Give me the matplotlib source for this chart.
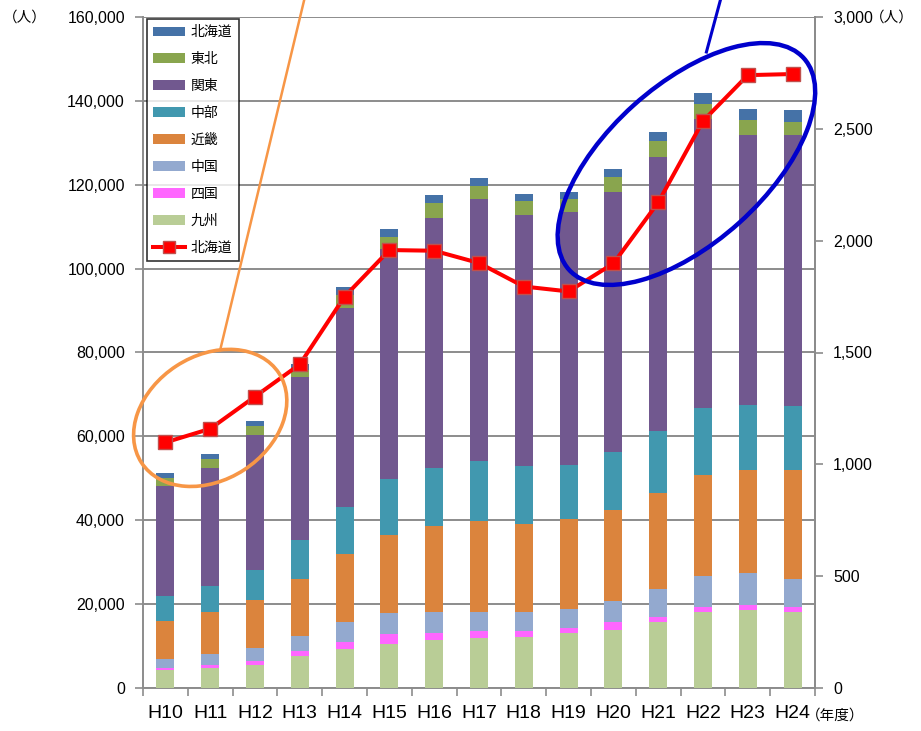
import matplotlib
matplotlib.use('Agg')
import matplotlib.pyplot as plt
import numpy as np
from matplotlib.patches import Ellipse, Patch
from matplotlib.lines import Line2D
from matplotlib.transforms import IdentityTransform

plt.rcParams['font.family'] = ['Liberation Sans', 'Noto Sans CJK JP', 'DejaVu Sans']

years = ['H10', 'H11', 'H12', 'H13', 'H14', 'H15', 'H16', 'H17', 'H18', 'H19',
         'H20', 'H21', 'H22', 'H23', 'H24']
kyushu = [4200, 4760, 5560, 7620, 9370, 10560, 11350, 11830, 12220, 13100, 13890, 15640, 18100, 18490, 18100]
shikoku = [480, 790, 870, 1270, 1670, 2220, 1830, 1750, 1350, 1190, 1750, 1270, 1270, 1270, 1270]
chugoku = [2140, 2460, 3020, 3410, 4600, 5000, 4920, 4520, 4520, 4600, 5000, 6750, 7220, 7620, 6670]
kinki = [9210, 10080, 11590, 13730, 16270, 18730, 20560, 21830, 20950, 21430, 21750, 22860, 24210, 24610, 25960]
chubu = [5870, 6350, 7140, 9290, 11270, 13340, 13810, 14210, 13890, 12940, 13890, 14760, 15950, 15560, 15160]
kanto = [26270, 27940, 32220, 38730, 47490, 54900, 59580, 62470, 59930, 60330, 62050, 65420, 68850, 64330, 64730]
tohoku = [1920, 2250, 2030, 1800, 3160, 2800, 3600, 3200, 3250, 3000, 3520, 3800, 3700, 3470, 3070]
hokkaido = [1098, 1159, 1303, 1447, 1750, 1958, 1955, 1900, 1795, 1773, 1898, 2171, 2535, 2740, 2745]

series_names = ['九州', '四国', '中国', '近畿', '中部', '関東', '東北', '北海道']
series_vals = [kyushu, shikoku, chugoku, kinki, chubu, kanto, tohoku, hokkaido]
series_cols = ['#B9CD96', '#FF66FF', '#93A9CF', '#DB843D', '#4198AF', '#71588F', '#89A54E', '#4572A7']

W, H = 921, 731
fig = plt.figure(figsize=(W / 100, H / 100), dpi=100)
ax = fig.add_axes([143 / W, 1 - 688 / H, (815 - 143) / W, (688 - 17) / H])
ax2 = ax.twinx()

x = np.arange(len(years))
bottom = np.zeros(len(years))
for name, vals, col in zip(series_names, series_vals, series_cols):
    v = np.array(vals, dtype=float)
    ax.bar(x, v, 0.4, bottom=bottom, color=col, edgecolor='none', zorder=3)
    bottom += v

gridc = '#8c8c8c'
ax.set_xlim(-0.5, len(years) - 0.5)
ax.set_ylim(0, 160000)
ax.set_yticks(np.arange(0, 160001, 20000))
ax.set_yticklabels([f'{v:,}' for v in range(0, 160001, 20000)], fontsize=11.5)
ax.yaxis.grid(True, color=gridc, linewidth=1.4, zorder=0)
ax.set_axisbelow(True)
ax.set_xticks(x)
ax.set_xticklabels(years, fontsize=14)
ax.set_xticks(np.arange(-0.5, len(years), 1), minor=True)
ax.tick_params(axis='x', which='major', length=0, pad=12)
ax.tick_params(axis='x', which='minor', length=6, color=gridc, width=1.2)
ax.tick_params(axis='y', length=6, color=gridc, width=1.2, pad=7)
for s in ['left', 'bottom', 'right']:
    ax.spines[s].set_color(gridc)
    ax.spines[s].set_linewidth(1.4)
ax.spines['top'].set_visible(False)

ax2.set_ylim(0, 3000)
ax2.set_yticks(np.arange(0, 3001, 500))
ax2.set_yticklabels([f'{v:,}' for v in range(0, 3001, 500)], fontsize=11.5)
ax2.tick_params(axis='y', length=6, color=gridc, width=1.2, pad=7)
for s in ['left', 'bottom', 'top']:
    ax2.spines[s].set_visible(False)
ax2.spines['right'].set_color(gridc)
ax2.spines['right'].set_linewidth(1.4)
ax2.plot(x, hokkaido, color='#FF0000', linewidth=2.9, marker='s', markersize=10,
         markerfacecolor='#FF0000', markeredgecolor='#C0504D', markeredgewidth=1, zorder=5)

# unit labels
fig.text(3 / W, 1 - 18 / H, '（人）', fontsize=10.5, family=['Noto Sans CJK JP'], va='center', ha='left')
fig.text(870 / W, 1 - 18 / H, '（人）', fontsize=10.5, family=['Noto Sans CJK JP'], va='center', ha='left')
fig.text(806 / W, 1 - 716 / H, '（年度）', fontsize=10.5, family=['Noto Sans CJK JP'], va='center', ha='left')

# legend
handles = [Patch(facecolor=c, edgecolor='none') for c in series_cols[::-1]]
labels = series_names[::-1]
handles.append(Line2D([0], [0], color='#FF0000', linewidth=2.9, marker='s', markersize=8,
                      markerfacecolor='#FF0000', markeredgecolor='#C0504D'))
labels.append('北海道')
leg = ax2.legend(handles, labels, loc='upper left', bbox_to_anchor=(0.006, 0.997),
                 borderaxespad=0, frameon=True, fancybox=False, edgecolor='black',
                 prop={'family': 'Noto Sans CJK JP', 'size': 10}, labelspacing=0.93,
                 handlelength=2.3, handleheight=0.7, handletextpad=0.4, borderpad=0.45)
leg.get_frame().set_linewidth(1.2)
leg.set_zorder(10)

# annotation ellipses (display pixels)
fig.canvas.draw()
ident = IdentityTransform()
oc = ax.transData.transform((1.0, 64400))
bc = ax.transData.transform((11.63, 124950))
e1 = Ellipse(oc, 164, 124, angle=33, fill=False, edgecolor='#F79646', linewidth=2.6,
             transform=ident, zorder=8, clip_on=False)
e2 = Ellipse(bc, 316, 158, angle=42, fill=False, edgecolor='#0000CC', linewidth=3.2,
             transform=ident, zorder=8, clip_on=False)
fig.add_artist(e1)
fig.add_artist(e2)
fig.add_artist(Line2D([oc[0] + 10, oc[0] + 94], [oc[1] + 68, oc[1] + 418], color='#F79646',
                      linewidth=1.8, transform=ident, zorder=8))
fig.add_artist(Line2D([bc[0] + 20, bc[0] + 34], [bc[1] + 112, bc[1] + 164], color='#0000CC',
                      linewidth=2.2, transform=ident, zorder=8))

fig.savefig('out.png', dpi=100)
